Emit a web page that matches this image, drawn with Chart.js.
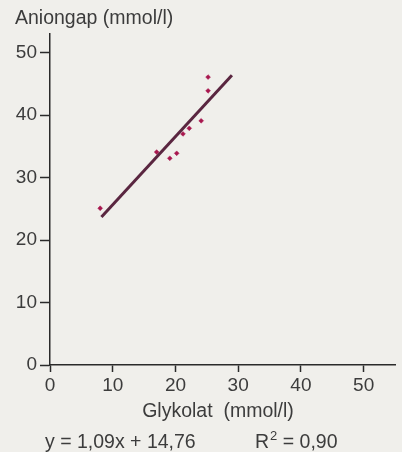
<!DOCTYPE html>
<html>
<head>
<meta charset="utf-8">
<script src="https://cdn.jsdelivr.net/npm/chart.js@4/dist/chart.umd.min.js"></script>
<style>
  html, body { margin: 0; padding: 0; background: #f0efeb; }
  #wrap { width: 402px; height: 452px; position: relative; }
</style>
</head>
<body>
<div id="wrap"><canvas id="chart"></canvas></div>
<script>
// Values
const glykolat = [8.0, 17.0, 19.1, 20.2, 21.2, 22.2, 24.1, 25.2, 25.2];
const aniongap = [25.1, 34.1, 33.1, 33.9, 37.0, 37.9, 39.1, 43.9, 46.1];

// Regression line end points
const fitX = [8.2, 29.0];
const fitY = [23.7, 46.4];

const equationText = "y = 1,09x + 14,76";
const xTitle = "Glykolat  (mmol/l)";
const yTitle = "Aniongap (mmol/l)";

const textColor = "#3c3c3c";
const axisColor = "#2a2a2a";
const fontFamily = "'Liberation Sans', Arial, sans-serif";

const toPoints = (xs, ys) => xs.map((x, i) => ({ x: x, y: ys[i] }));

// Titles and equation drawn around the chart area
const labelsPlugin = {
  id: "labels",
  afterDraw(chart) {
    const { ctx, chartArea } = chart;
    const base = chartArea.bottom + 83;
    ctx.save();
    ctx.fillStyle = textColor;
    ctx.font = "19.5px " + fontFamily;
    ctx.textBaseline = "alphabetic";
    ctx.textAlign = "left";
    ctx.fillText(yTitle, 15, 24);
    ctx.textAlign = "center";
    ctx.fillText(xTitle, 218, chartArea.bottom + 52);
    ctx.textAlign = "left";
    ctx.fillText(equationText, 45, base);
    // R² = 0,90 with a raised 2
    let x = 255;
    ctx.fillText("R", x, base);
    x += ctx.measureText("R").width + 1;
    ctx.font = "13px " + fontFamily;
    ctx.fillText("2", x, base - 8);
    x += ctx.measureText("2").width;
    ctx.font = "19.5px " + fontFamily;
    ctx.fillText(" = 0,90", x, base);
    ctx.restore();
  },
};

const axisCommon = {
  type: "linear",
  ticks: {
    stepSize: 10,
    includeBounds: false,
    color: textColor,
    font: { family: fontFamily, size: 19 },
  },
  grid: {
    drawOnChartArea: false,
    drawTicks: true,
    tickColor: axisColor,
    tickWidth: 1.5,
  },
  border: { color: axisColor, width: 1.5 },
};

new Chart(document.getElementById("chart"), {
  type: "scatter",
  data: {
    datasets: [
      {
        label: "Messwerte",
        data: toPoints(glykolat, aniongap),
        pointStyle: "rectRot",
        pointRadius: 2.4,
        pointBackgroundColor: "#a8174e",
        pointBorderColor: "#a8174e",
        pointBorderWidth: 0.5,
        order: 2,
      },
      {
        label: "Regression",
        data: toPoints(fitX, fitY),
        showLine: true,
        borderColor: "#5a2640",
        borderWidth: 3,
        pointRadius: 0,
        order: 1,
      },
    ],
  },
  options: {
    responsive: true,
    maintainAspectRatio: false,
    animation: false,
    layout: { padding: { top: 34, right: 7, left: 0, bottom: 0 } },
    plugins: {
      legend: { display: false },
      tooltip: { enabled: false },
    },
    scales: {
      x: {
        ...axisCommon,
        min: 0,
        max: 55,
        ticks: { ...axisCommon.ticks, padding: 2 },
        grid: { ...axisCommon.grid, tickLength: 7 },
        afterFit(scale) { scale.height = 87; },
      },
      y: {
        ...axisCommon,
        min: 0,
        max: 53,
        ticks: { ...axisCommon.ticks, padding: 3 },
        grid: { ...axisCommon.grid, tickLength: 10 },
        afterFit(scale) { scale.width = 50; },
      },
    },
  },
  plugins: [labelsPlugin],
});
</script>
</body>
</html>
